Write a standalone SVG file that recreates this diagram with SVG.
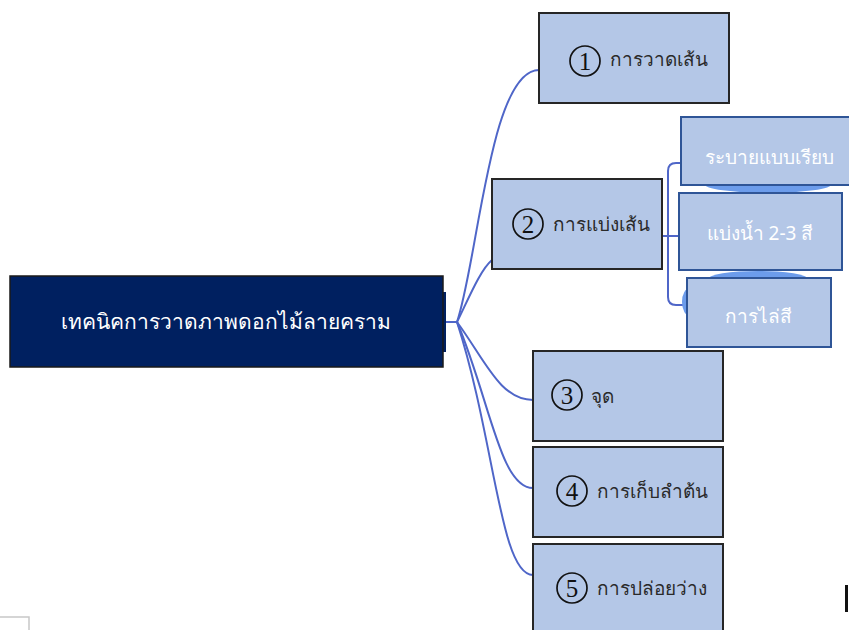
<svg xmlns="http://www.w3.org/2000/svg" width="849" height="630" viewBox="0 0 849 630">
<style>
.main{fill:#B4C7E7;stroke:#262626;stroke-width:2}
.sub{fill:#B4C7E7;stroke:#2F5597;stroke-width:2}
.blob{fill:#6C9CEB}
.t{font-family:"Noto Sans","DejaVu Sans",sans-serif;font-size:19px;fill:#2A2A2A}
.tw{font-family:"Noto Sans","DejaVu Sans",sans-serif;font-size:19px;fill:#FFFFFF;text-anchor:middle}
.num{font-family:"Liberation Serif",serif;font-size:25px;fill:#111;text-anchor:middle}
.circ{fill:none;stroke:#111;stroke-width:1.7}
.conn{fill:none;stroke:#4F66C8;stroke-width:2}
</style>
<rect width="849" height="630" fill="#FFFFFF"/>
<g id="connectors">
<path class="conn" d="M443,322 H457"/>
<path class="conn" d="M457,322 C478,260 490,70 539,70"/>
<path class="conn" d="M457,322 C468,300 480,270 492,260"/>
<path class="conn" d="M457,322 C485,360 500,400 533,400"/>
<path class="conn" d="M457,322 C490,400 500,488 533,488"/>
<path class="conn" d="M457,322 C495,440 500,575 533,575"/>
<path class="conn" d="M662,236 H679"/>
<path class="conn" d="M681,163 H676 Q668,163 668,171 V297 Q668,305 676,305 H687"/>
</g>
<g id="blobs">
<ellipse class="blob" cx="768" cy="184" rx="64" ry="9"/>
<ellipse class="blob" cx="758" cy="279" rx="50" ry="8"/>
<ellipse class="blob" cx="690" cy="302" rx="8" ry="14"/>
</g>
<g id="root">
<rect x="20" y="292" width="426" height="60" fill="#002060"/>
<rect x="10" y="276" width="433" height="91" fill="#002060" stroke="#1A1A1A" stroke-width="1.5"/>
<text class="tw" x="226" y="329" style="font-size:21px">เทคนิคการวาดภาพดอกไม้ลายคราม</text>
</g>
<g id="n1">
<rect class="main" x="539" y="13" width="190" height="90"/>
<circle class="circ" cx="585" cy="61" r="15"/>
<text class="num" x="585" y="70">1</text>
<text class="t" x="610" y="66">การวาดเส้น</text>
</g>
<g id="n2">
<rect class="main" x="492" y="179" width="170" height="90"/>
<circle class="circ" cx="528" cy="224" r="15"/>
<text class="num" x="528" y="233">2</text>
<text class="t" x="553" y="231">การแบ่งเส้น</text>
</g>
<g id="n2a">
<rect class="sub" x="681" y="117" width="172" height="68"/>
<text class="tw" x="769" y="164">ระบายแบบเรียบ</text>
</g>
<g id="n2b">
<rect class="sub" x="679" y="193" width="163" height="77"/>
<text class="tw" x="760" y="240">แบ่งน้ำ 2-3 สี</text>
</g>
<g id="n2c">
<rect class="sub" x="687" y="278" width="144" height="69"/>
<text class="tw" x="758" y="323">การไล่สี</text>
</g>
<g id="n3">
<rect class="main" x="533" y="351" width="190" height="90"/>
<circle class="circ" cx="567" cy="395" r="15"/>
<text class="num" x="567" y="404">3</text>
<text class="t" x="591" y="403">จุด</text>
</g>
<g id="n4">
<rect class="main" x="533" y="447" width="190" height="90"/>
<circle class="circ" cx="572" cy="491" r="15"/>
<text class="num" x="572" y="500">4</text>
<text class="t" x="597" y="498">การเก็บลำต้น</text>
</g>
<g id="n5">
<rect class="main" x="533" y="544" width="190" height="96"/>
<circle class="circ" cx="572" cy="588" r="15"/>
<text class="num" x="572" y="597">5</text>
<text class="t" x="597" y="595">การปล่อยว่าง</text>
</g>
<path d="M0,617 H29 V630" fill="none" stroke="#C8C8C8" stroke-width="1.5"/>
<rect x="845" y="585" width="3" height="27" fill="#111"/>
</svg>
